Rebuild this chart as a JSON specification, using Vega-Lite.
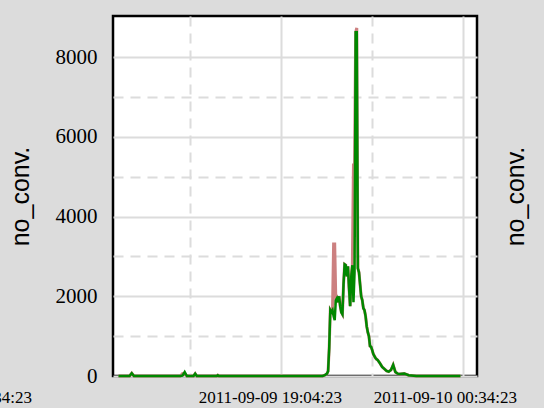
{
  "$schema": "https://vega.github.io/schema/vega-lite/v6.json",
  "width": 364,
  "height": 360,
  "autosize": {"type": "none"},
  "padding": {"left": 113, "top": 16, "right": 67, "bottom": 32},
  "background": "#dcdcdc",
  "config": {
    "view": {"stroke": "black", "strokeWidth": 2.5, "fill": "white"},
    "axis": {"domain": false, "ticks": false, "gridColor": "#dcdcdc", "gridWidth": 2, "gridOpacity": 1, "labelFont": "Liberation Serif"}
  },
  "data": {
    "values": [
      {"t": "2011-09-09T14:10:00", "pink": 0, "green": 0},
      {"t": "2011-09-09T14:30:00", "pink": 0, "green": 0},
      {"t": "2011-09-09T14:34:00", "pink": 70, "green": 70},
      {"t": "2011-09-09T14:38:00", "pink": 0, "green": 0},
      {"t": "2011-09-09T16:02:00", "pink": 0, "green": 0},
      {"t": "2011-09-09T16:06:00", "pink": 60, "green": 10},
      {"t": "2011-09-09T16:10:00", "pink": 50, "green": 100},
      {"t": "2011-09-09T16:14:00", "pink": 0, "green": 0},
      {"t": "2011-09-09T16:26:00", "pink": 0, "green": 0},
      {"t": "2011-09-09T16:29:00", "pink": 60, "green": 60},
      {"t": "2011-09-09T16:32:00", "pink": 0, "green": 0},
      {"t": "2011-09-09T17:08:00", "pink": 0, "green": 0},
      {"t": "2011-09-09T17:10:00", "pink": 20, "green": 20},
      {"t": "2011-09-09T17:12:00", "pink": 0, "green": 0},
      {"t": "2011-09-09T20:20:00", "pink": 0, "green": 0},
      {"t": "2011-09-09T20:24:00", "pink": 20, "green": 20},
      {"t": "2011-09-09T20:28:00", "pink": 60, "green": 60},
      {"t": "2011-09-09T20:30:00", "pink": 120, "green": 120},
      {"t": "2011-09-09T20:32:00", "pink": 700, "green": 700},
      {"t": "2011-09-09T20:34:00", "pink": 1650, "green": 1650},
      {"t": "2011-09-09T20:36:00", "pink": 1600, "green": 1600},
      {"t": "2011-09-09T20:38:00", "pink": 1650, "green": 1650},
      {"t": "2011-09-09T20:40:00", "pink": 3310, "green": 1500},
      {"t": "2011-09-09T20:42:00", "pink": 3310, "green": 1400},
      {"t": "2011-09-09T20:44:00", "pink": 1900, "green": 1900},
      {"t": "2011-09-09T20:46:00", "pink": 1950, "green": 1950},
      {"t": "2011-09-09T20:48:00", "pink": 1850, "green": 1850},
      {"t": "2011-09-09T20:50:00", "pink": 2000, "green": 2000},
      {"t": "2011-09-09T20:52:00", "pink": 1750, "green": 1750},
      {"t": "2011-09-09T20:54:00", "pink": 1600, "green": 1600},
      {"t": "2011-09-09T20:56:00", "pink": 1550, "green": 1550},
      {"t": "2011-09-09T20:58:00", "pink": 2300, "green": 2300},
      {"t": "2011-09-09T21:00:00", "pink": 2800, "green": 2800},
      {"t": "2011-09-09T21:02:00", "pink": 2780, "green": 2780},
      {"t": "2011-09-09T21:04:00", "pink": 2500, "green": 2500},
      {"t": "2011-09-09T21:06:00", "pink": 2750, "green": 2750},
      {"t": "2011-09-09T21:08:00", "pink": 2200, "green": 2200},
      {"t": "2011-09-09T21:10:00", "pink": 1750, "green": 1750},
      {"t": "2011-09-09T21:12:00", "pink": 2500, "green": 2500},
      {"t": "2011-09-09T21:14:00", "pink": 2780, "green": 2780},
      {"t": "2011-09-09T21:16:00", "pink": 5290, "green": 1850},
      {"t": "2011-09-09T21:18:00", "pink": 5290, "green": 2600},
      {"t": "2011-09-09T21:20:00", "pink": 8620, "green": 8620},
      {"t": "2011-09-09T21:22:00", "pink": 8730, "green": 8620},
      {"t": "2011-09-09T21:24:00", "pink": 2700, "green": 2700},
      {"t": "2011-09-09T21:26:00", "pink": 2600, "green": 2600},
      {"t": "2011-09-09T21:28:00", "pink": 2300, "green": 2300},
      {"t": "2011-09-09T21:30:00", "pink": 2000, "green": 2000},
      {"t": "2011-09-09T21:32:00", "pink": 1900, "green": 1900},
      {"t": "2011-09-09T21:34:00", "pink": 1700, "green": 1700},
      {"t": "2011-09-09T21:36:00", "pink": 1650, "green": 1650},
      {"t": "2011-09-09T21:38:00", "pink": 1500, "green": 1500},
      {"t": "2011-09-09T21:40:00", "pink": 1250, "green": 1250},
      {"t": "2011-09-09T21:42:00", "pink": 1100, "green": 1100},
      {"t": "2011-09-09T21:44:00", "pink": 1000, "green": 1000},
      {"t": "2011-09-09T21:46:00", "pink": 750, "green": 750},
      {"t": "2011-09-09T21:48:00", "pink": 730, "green": 730},
      {"t": "2011-09-09T21:50:00", "pink": 650, "green": 650},
      {"t": "2011-09-09T21:52:00", "pink": 550, "green": 550},
      {"t": "2011-09-09T21:54:00", "pink": 500, "green": 500},
      {"t": "2011-09-09T21:56:00", "pink": 450, "green": 450},
      {"t": "2011-09-09T21:58:00", "pink": 420, "green": 420},
      {"t": "2011-09-09T22:00:00", "pink": 400, "green": 400},
      {"t": "2011-09-09T22:04:00", "pink": 320, "green": 320},
      {"t": "2011-09-09T22:08:00", "pink": 230, "green": 230},
      {"t": "2011-09-09T22:12:00", "pink": 180, "green": 180},
      {"t": "2011-09-09T22:16:00", "pink": 130, "green": 130},
      {"t": "2011-09-09T22:20:00", "pink": 110, "green": 110},
      {"t": "2011-09-09T22:24:00", "pink": 150, "green": 150},
      {"t": "2011-09-09T22:28:00", "pink": 280, "green": 280},
      {"t": "2011-09-09T22:32:00", "pink": 100, "green": 100},
      {"t": "2011-09-09T22:36:00", "pink": 60, "green": 60},
      {"t": "2011-09-09T22:40:00", "pink": 50, "green": 50},
      {"t": "2011-09-09T22:48:00", "pink": 60, "green": 60},
      {"t": "2011-09-09T22:56:00", "pink": 20, "green": 20},
      {"t": "2011-09-09T23:10:00", "pink": 0, "green": 0},
      {"t": "2011-09-10T00:30:00", "pink": 0, "green": 0}
    ]
  },
  "encoding": {
    "x": {
      "field": "t",
      "type": "temporal",
      "title": null,
      "scale": {"domain": [
        {"year": 2011, "month": 9, "date": 9, "hours": 14},
        {"year": 2011, "month": 9, "date": 10, "hours": 1}
      ]},
      "axis": {
        "values": [
          {"year": 2011, "month": 9, "date": 9, "hours": 16, "minutes": 19, "seconds": 23},
          {"year": 2011, "month": 9, "date": 9, "hours": 19, "minutes": 4, "seconds": 23},
          {"year": 2011, "month": 9, "date": 9, "hours": 21, "minutes": 49, "seconds": 23},
          {"year": 2011, "month": 9, "date": 10, "hours": 0, "minutes": 34, "seconds": 23}
        ],
        "labelExpr": "hours(datum.value) == 16 ? '2011-09-09 13:34:23' : hours(datum.value) == 19 ? '2011-09-09 19:04:23' : hours(datum.value) == 0 ? '2011-09-10 00:34:23' : ''",
        "labelFont": "Liberation Serif",
        "labelFontSize": 17,
        "labelColor": "black",
        "labelPadding": 13,
        "labelFlush": false,
        "labelOverlap": false,
        "labelOffset": {"condition": [
          {"test": "hours(datum.value) == 16", "value": -230},
          {"test": "hours(datum.value) == 0", "value": -18}
        ], "value": -11},
        "gridDash": {"condition": {"test": "hours(datum.value) == 16 || hours(datum.value) == 21", "value": [10, 7]}, "value": []}
      }
    }
  },
  "layer": [
    {
      "mark": {"type": "line", "color": "#cc8080", "strokeWidth": 3},
      "encoding": {
        "y": {
          "field": "pink",
          "type": "quantitative",
          "scale": {"domain": [0, 9030], "nice": false, "zero": true},
          "axis": {
            "orient": "left",
            "title": "no_conv.",
            "titleFont": "Liberation Sans",
            "titleFontSize": 25,
            "titleFontWeight": "normal",
            "titleColor": "black",
            "titlePadding": 22,
            "values": [0, 1000, 2000, 3000, 4000, 5000, 6000, 7000, 8000],
            "format": "d",
            "labelExpr": "datum.value % 2000 == 0 ? datum.label : ''",
            "labelFont": "Liberation Serif",
            "labelFontSize": 21,
            "labelColor": "black",
            "labelPadding": 16,
            "labelFlush": false,
            "gridDash": {"condition": {"test": "datum.value % 2000 != 0", "value": [10, 7]}, "value": []}
          }
        }
      }
    },
    {
      "mark": {"type": "line", "color": "#008800", "strokeWidth": 2.5},
      "encoding": {
        "y": {
          "field": "green",
          "type": "quantitative",
          "scale": {"domain": [0, 9030], "nice": false, "zero": true},
          "axis": {
            "orient": "right",
            "title": "no_conv.",
            "titleFont": "Liberation Sans",
            "titleFontSize": 25,
            "titleFontWeight": "normal",
            "titleColor": "black",
            "titleAngle": -90,
            "titlePadding": 51,
            "labels": false,
            "grid": false
          }
        }
      }
    }
  ],
  "resolve": {"scale": {"y": "independent"}}
}
